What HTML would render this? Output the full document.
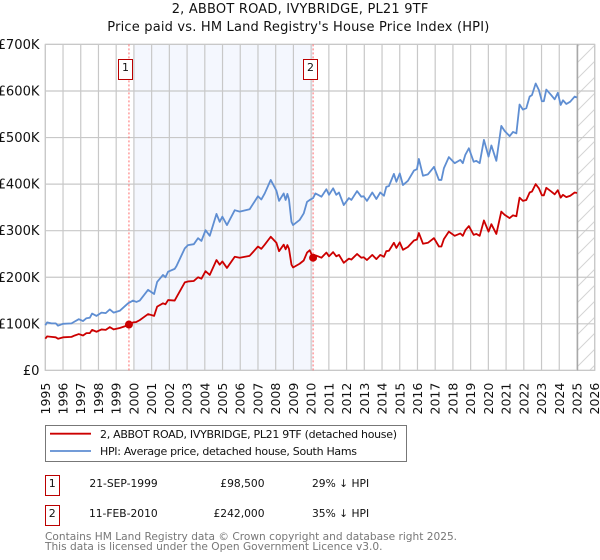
<!DOCTYPE html>
<html lang="en">
<head>
<meta charset="utf-8">
<title>2, ABBOT ROAD, IVYBRIDGE, PL21 9TF</title>
<style>
html,body{margin:0;padding:0;background:#fff;width:600px;height:560px;overflow:hidden}
svg{display:block}
text{font-family:"DejaVu Sans","Liberation Sans",sans-serif;fill:#111}
</style>
</head>
<body>
<svg id="chart" xmlns="http://www.w3.org/2000/svg" width="600" height="560" viewBox="0 0 600 560">
<defs>
<pattern id="hatch" patternUnits="userSpaceOnUse" width="16" height="16">
<path d="M-1 17L17 -1M-1 1L1 -1M15 17L17 15" stroke="#d4d4d4" stroke-width="1" fill="none"/>
</pattern>
</defs>
<text x="171.7" y="13" font-size="13" textLength="256.6">2, ABBOT ROAD, IVYBRIDGE, PL21 9TF</text>
<text x="107.3" y="31" font-size="13" textLength="382">Price paid vs. HM Land Registry's House Price Index (HPI)</text>
<g id="plot"></g>
<g>
<rect x="45.5" y="425.5" width="361" height="36" fill="#fff" stroke="#777" stroke-width="1"/>
<line x1="50" x2="91" y1="433.7" y2="433.7" stroke="#cc0000" stroke-width="1.8"/>
<text x="100" y="438" font-size="11" textLength="297">2, ABBOT ROAD, IVYBRIDGE, PL21 9TF (detached house)</text>
<line x1="50" x2="91" y1="451" y2="451" stroke="#5f8ed2" stroke-width="1.8"/>
<text x="100" y="455" font-size="11" textLength="257">HPI: Average price, detached house, South Hams</text>
</g>
<g>
<rect x="45.5" y="475.5" width="14" height="20" fill="#fff" stroke="#bb0000"/>
<text x="52.3" y="487" font-size="11" text-anchor="middle">1</text>
<text x="157.7" y="487" font-size="10.7" text-anchor="end">21-SEP-1999</text>
<text x="264.5" y="487" font-size="10.7" text-anchor="end">£98,500</text>
<text x="312" y="487" font-size="10.7">29% ↓ HPI</text>
<rect x="45.5" y="505.5" width="14" height="20" fill="#fff" stroke="#bb0000"/>
<text x="52.3" y="517" font-size="11" text-anchor="middle">2</text>
<text x="157.7" y="517" font-size="10.7" text-anchor="end">11-FEB-2010</text>
<text x="264.5" y="517" font-size="10.7" text-anchor="end">£242,000</text>
<text x="312" y="517" font-size="10.7">35% ↓ HPI</text>
</g>
<text x="45" y="540" font-size="10.6" style="fill:#777">Contains HM Land Registry data © Crown copyright and database right 2025.</text>
<text x="45" y="550" font-size="10.6" style="fill:#777">This data is licensed under the Open Government Licence v3.0.</text>
</svg>
<script>
const yearTicks = [1995,1996,1997,1998,1999,2000,2001,2002,2003,2004,2005,2006,2007,2008,2009,2010,2011,2012,2013,2014,2015,2016,2017,2018,2019,2020,2021,2022,2023,2024,2025,2026];
const priceTicks = [0,100,200,300,400,500,600,700];
const priceTickLabels = ['£0','£100K','£200K','£300K','£400K','£500K','£600K','£700K'];
const dates = [
1995.00,1995.10,1995.35,1995.59,1995.72,1996.00,1996.48,1996.66,1996.89,1997.13,
1997.32,1997.51,1997.64,1997.89,1998.17,1998.41,1998.64,1998.86,1999.20,1999.67,
1999.95,2000.14,2000.33,2000.80,2001.14,2001.31,2001.64,2001.78,2001.93,2002.30,
2002.40,2002.87,2003.05,2003.38,2003.62,2003.81,2004.04,2004.28,2004.66,2004.84,
2004.99,2005.25,2005.69,2005.97,2006.53,2007.00,2007.19,2007.38,2007.72,2008.04,
2008.19,2008.45,2008.56,2008.66,2008.75,2008.89,2008.98,2009.35,2009.58,2009.77,
2009.92,2010.11,2010.24,2010.39,2010.58,2010.86,2011.01,2011.24,2011.42,2011.57,
2011.84,2012.13,2012.27,2012.59,2012.83,2012.96,2013.15,2013.45,2013.68,2013.90,
2014.11,2014.24,2014.39,2014.67,2014.81,2015.00,2015.18,2015.46,2015.80,2015.97,
2016.08,2016.31,2016.59,2016.93,2017.21,2017.35,2017.49,2017.77,2018.10,2018.42,
2018.56,2018.70,2018.90,2019.17,2019.32,2019.51,2019.75,2020.01,2020.17,2020.45,
2020.73,2020.92,2021.20,2021.39,2021.58,2021.76,2021.95,2022.14,2022.33,2022.46,
2022.67,2022.85,2023.02,2023.13,2023.27,2023.55,2023.74,2023.92,2024.08,2024.21,
2024.40,2024.62,2024.87,2025.00];
const hpiValues = [
97,103,101,101,96,100,101,105,110,106,
112,113,122,117,124,123,131,124,128,144,
150,147,150,173,164,190,205,200,212,218,
224,262,269,271,284,278,301,289,336,319,
330,312,344,341,346,374,367,380,409,386,
364,380,366,379,367,319,312,323,337,362,
366,370,380,377,373,389,377,391,377,382,
355,370,366,385,373,374,364,382,368,382,
375,394,396,422,405,423,398,407,429,432,
454,418,421,437,409,409,434,458,445,452,
445,463,477,448,450,445,495,459,483,450,
525,514,503,512,509,571,560,563,588,591,
616,602,578,578,603,591,582,596,570,580,
572,577,588,586];
const paidValues = [
68,73,72,71,68,71,72,75,78,75,
80,80,87,83,88,87,93,88,91,97,
103,104,108,121,117,137,144,142,151,150,
157,189,191,192,200,197,213,205,237,227,
234,220,244,242,246,266,261,270,287,274,
256,270,260,269,261,227,221,229,236,253,
258,242,247,245,242,253,245,254,245,248,
231,240,238,250,242,243,237,248,239,248,
244,256,257,274,263,275,259,265,279,281,
295,272,274,284,266,266,282,298,289,294,
289,301,310,291,293,289,322,298,314,293,
341,334,327,333,331,371,364,366,382,384,
400,391,376,376,392,384,378,387,371,377,
372,375,382,381];
const saleDates = [1999.72,2010.11];
const salePrices = [98.5,242];
const saleLabels = ['1','2'];
const shadeStartYear = 2000;
const forecastStartYear = 2025;

const NS = 'http://www.w3.org/2000/svg';
const plot = document.getElementById('plot');
const left = 45.3, right = 594.7, top_ = 44.4, bottom = 370.4;
const minYear = yearTicks[0], maxYear = yearTicks[yearTicks.length - 1];
const maxPrice = priceTicks[priceTicks.length - 1];
function xScale(year){ return left + (year - minYear) * (right - left) / (maxYear - minYear); }
function yScale(price){ return bottom - price * (bottom - top_) / maxPrice; }
function make(tag, attrs, parent){
  const el = document.createElementNS(NS, tag);
  for (const k in attrs) el.setAttribute(k, attrs[k]);
  (parent || plot).appendChild(el);
  return el;
}

const shade = make('rect', {x:xScale(shadeStartYear), y:top_, width:xScale(saleDates[1])-xScale(shadeStartYear), height:bottom-top_, fill:'#f4f7fe'});


const hatch = make('rect', {x:xScale(forecastStartYear), y:top_, width:right-xScale(forecastStartYear), height:bottom-top_, fill:'url(#hatch)'});



priceTicks.forEach(function(p, i){
  const g = make('line', {x1:left, x2:right, y1:yScale(p), y2:yScale(p), stroke:'#c8c8c8', 'stroke-width':1.2});
  
  
  const t = make('text', {x:39.5, y:yScale(p)+4.5, 'font-size':13.1, 'text-anchor':'end'});
  t.textContent = priceTickLabels[i];
  
  
});
yearTicks.forEach(function(yr){
  const x = xScale(yr);
  const g = make('line', {x1:x, x2:x, y1:top_, y2:bottom, stroke:'#c8c8c8', 'stroke-width':1.2});
  
  
  const t = make('text', {x:0, y:0, 'font-size':12.5, transform:'translate('+(x+4.5)+',414.5) rotate(-90)'});
  t.textContent = String(yr);
  
  
});
const frame = make('rect', {x:left, y:top_, width:right-left, height:bottom-top_, fill:'none', stroke:'#c8c8c8', 'stroke-width':1.2});


const fLine = make('line', {x1:xScale(forecastStartYear)+0.6, x2:xScale(forecastStartYear)+0.6, y1:top_, y2:bottom, stroke:'#a8a8a8', 'stroke-width':1.3});



saleDates.forEach(function(d, i){
  const x = xScale(d);
  const l = make('line', {x1:x, x2:x, y1:top_, y2:bottom, stroke:'#ff6b6b', 'stroke-width':1, 'stroke-dasharray':'2 2'});
  
  
  const bx = Math.floor(x - 10) + 0.5;
  const b = make('rect', {x:bx, y:59.5, width:14, height:20, fill:'#fff', stroke:'#bb0000', 'stroke-width':1});
  
  
  const t = make('text', {x:bx+7, y:71, 'font-size':11, 'text-anchor':'middle'});
  t.textContent = saleLabels[i];
  
  
});

function linePath(values){
  return values.map(function(v, i){ return (i ? 'L' : 'M') + xScale(dates[i]).toFixed(2) + ' ' + yScale(v).toFixed(2); }).join('');
}
const hpiLine = make('path', {d:linePath(hpiValues), fill:'none', stroke:'#5f8ed2', 'stroke-width':1.8, 'stroke-linejoin':'round'});


const paidLine = make('path', {d:linePath(paidValues), fill:'none', stroke:'#cc0000', 'stroke-width':1.8, 'stroke-linejoin':'round'});


saleDates.forEach(function(d, i){
  const c = make('circle', {cx:xScale(d), cy:yScale(salePrices[i]), r:4, fill:'#cc0000'});
  
  
});
</script>
</body>
</html>
